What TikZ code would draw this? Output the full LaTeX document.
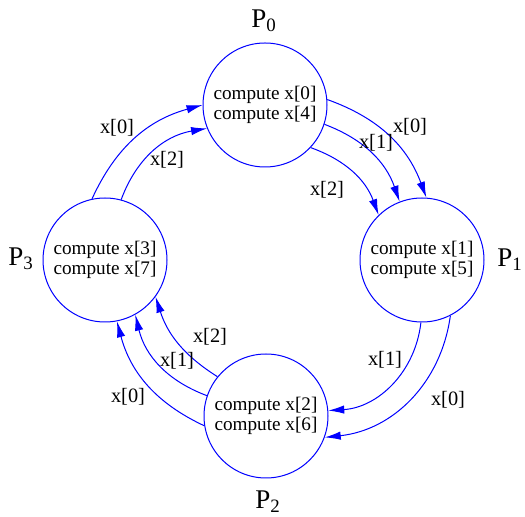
\documentclass[tikz,border=0pt]{standalone}
\usepackage{fontspec}
\setmainfont{Liberation Serif}
\usetikzlibrary{arrows.meta}

\begin{document}
\begin{tikzpicture}[
  x=0.5pt, y=0.5pt,
  proc/.style  = {draw=blue, circle, line width=0.5pt, minimum size=62pt,
                  inner sep=0pt, align=center,
                  font=\fontsize{9.6}{10}\selectfont},
  pname/.style = {font=\fontsize{13.5}{14}\selectfont, inner sep=0pt},
  lbl/.style   = {font=\fontsize{10.2}{11}\selectfont, inner sep=0pt},
  msg/.style   = {-{Latex[length=8pt,width=4.2pt]}, blue, line width=0.5pt}
]
  \useasboundingbox (0,0) rectangle (525,-517);

  \node[proc] (P0) at (265,-105) {compute x[0]\\compute x[4]};
  \node[proc] (P1) at (422,-260) {compute x[1]\\compute x[5]};
  \node[proc] (P2) at (266,-416) {compute x[2]\\compute x[6]};
  \node[proc] (P3) at (105,-260) {compute x[3]\\compute x[7]};

  \node[pname] (n0) at (264,-21)  {P\textsubscript{0}};
  \node[pname] (n1) at (510,-260) {P\textsubscript{1}};
  \node[pname] (n2) at (268,-502) {P\textsubscript{2}};
  \node[pname] (n3) at (21,-259)  {P\textsubscript{3}};

  % P3 -> P0
  \draw[msg] (P3.102) to[bend left=25] (P0.180);
  \draw[msg] (P3.75)  to[bend left=30] (P0.202);
  \node[lbl] (l30a) at (117,-128) {x[0]};
  \node[lbl] (l30b) at (167,-160) {x[2]};

  % P0 -> P1
  \draw[msg] (P0.5)   to[bend left=25] (P1.86);
  \draw[msg] (P0.-18) to[bend left=25] (P1.111);
  \draw[msg] (P0.-43) to[bend left=25] (P1.134);
  \node[lbl] (l01a) at (410,-127) {x[0]};
  \node[lbl] (l01b) at (376,-143) {x[1]};
  \node[lbl] (l01c) at (327,-190) {x[2]};

  % P1 -> P2
  \draw[msg] (P1.-91) to[bend left=40] (P2.5);
  \draw[msg] (P1.-63) to[bend left=38] (P2.-20);
  \node[lbl] (l12a) at (385,-360) {x[1]};
  \node[lbl] (l12b) at (448,-400) {x[0]};

  % P2 -> P3
  \draw[msg] (P2.141) to[bend left=20] (P3.-36);
  \draw[msg] (P2.161) to[bend left=28] (P3.-61);
  \draw[msg] (P2.189) to[bend left=25] (P3.-79);
  \node[lbl] (l23a) at (210,-337) {x[2]};
  \node[lbl] (l23b) at (177,-361) {x[1]};
  \node[lbl] (l23c) at (128,-397) {x[0]};
\end{tikzpicture}
\end{document}
